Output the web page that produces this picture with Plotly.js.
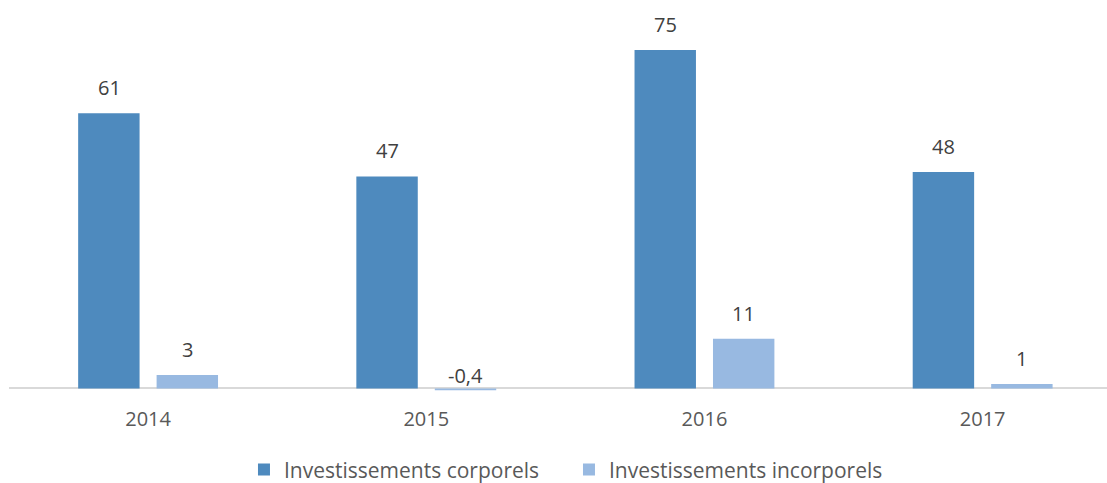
<!DOCTYPE html>
<html>
<head>
<meta charset="utf-8">
<script src="https://cdn.plot.ly/plotly-3.0.1.min.js"></script>
<style>
  body { margin: 0; background: #fff; }
  #graph { width: 1107px; height: 483px; }
</style>
</head>
<body>
<div id="graph"></div>
<script>
// données
var annees = ["2014", "2015", "2016", "2017"];
var corporels = [61, 47, 75, 48];
var incorporels = [3, -0.4, 11, 1];
var nomCorporels = "Investissements corporels";
var nomIncorporels = "Investissements incorporels";

var police = "Open Sans, sans-serif";

function fmt(v) {
    return v.toString().replace(".", ",");
}

var trace1 = {
    x: annees,
    y: corporels,
    name: nomCorporels,
    type: "bar",
    marker: { color: "#4e8abe" },
    hoverinfo: "none"
};

var trace2 = {
    x: annees,
    y: incorporels,
    name: nomIncorporels,
    type: "bar",
    marker: { color: "#98b9e1" },
    hoverinfo: "none"
};

// étiquettes au-dessus des barres (x = indice de la catégorie)
var annotations = [];
function etiquettes(vals, decalage) {
    for (var i = 0; i < vals.length; i++) {
        annotations.push({
            x: i,
            y: Math.max(vals[i], 0),
            xref: "x",
            yref: "y",
            text: fmt(vals[i]),
            showarrow: false,
            yanchor: "bottom",
            xshift: decalage,
            yshift: vals[i] < 0 ? -3 : 10,
            font: { family: police, size: 20, color: "#404040" }
        });
    }
}
etiquettes(corporels, -39);
etiquettes(incorporels, 39);

var layout = {
    width: 1107,
    height: 483,
    margin: { l: 9, r: 0, t: 9, b: 90, autoexpand: false },
    barmode: "group",
    bargap: 0.436,
    bargroupgap: 0.217,
    showlegend: true,
    legend: {
        orientation: "h",
        x: 0.51,
        xanchor: "center",
        yref: "container",
        y: 0.027,
        yanchor: "middle",
        entrywidth: 280,
        entrywidthmode: "pixels",
        itemsizing: "constant",
        font: { family: police, size: 21, color: "#595959" }
    },
    xaxis: {
        type: "category",
        range: [-0.5, 3.447],
        showgrid: false,
        showline: false,
        ticklabelstandoff: 12,
        tickfont: { family: police, size: 20, color: "#595959" }
    },
    yaxis: {
        range: [-1, 84.1],
        showgrid: false,
        showticklabels: false,
        zeroline: true,
        zerolinecolor: "#d9d9d9",
        zerolinewidth: 2
    },
    annotations: annotations,
    plot_bgcolor: "#fff",
    paper_bgcolor: "#fff"
};

Plotly.newPlot("graph", [trace1, trace2], layout, { displayModeBar: false, staticPlot: true });
</script>
</body>
</html>
